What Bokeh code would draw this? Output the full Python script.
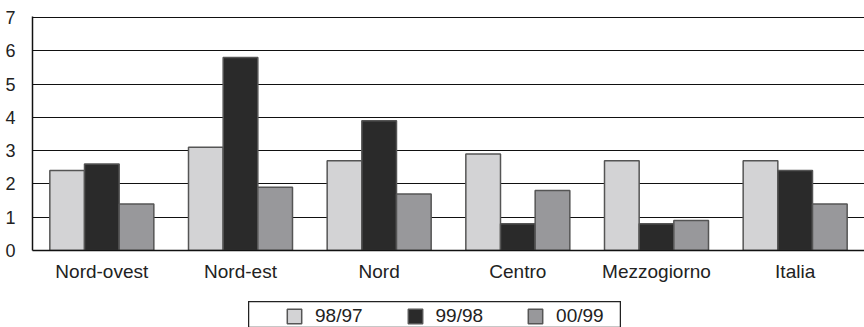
from bokeh.plotting import figure
from bokeh.models import ColumnDataSource, Range1d, FixedTicker, Legend, LegendItem, Spacer
from bokeh.layouts import column, row
from bokeh.transform import dodge
from bokeh.embed import file_html
from bokeh.resources import INLINE

regions = ["Nord-ovest", "Nord-est", "Nord", "Centro", "Mezzogiorno", "Italia"]
series_names = ["98/97", "99/98", "00/99"]
v_98_97 = [2.4, 3.1, 2.7, 2.9, 2.7, 2.7]
v_99_98 = [2.6, 5.8, 3.9, 0.8, 0.8, 2.4]
v_00_99 = [1.4, 1.9, 1.7, 1.8, 0.9, 1.4]
y_ticks = [0, 1, 2, 3, 4, 5, 6, 7]

colors = ["#d3d3d5", "#2a2a2a", "#98989b"]
FONT = "Liberation Sans"
OUTLINE = "#555555"

source = ColumnDataSource(data=dict(region=regions, a=v_98_97, b=v_99_98, c=v_00_99))

p = figure(x_range=regions, y_range=Range1d(0, 7.03), width=864, height=301,
           output_backend="svg", toolbar_location=None,
           min_border_left=32, min_border_right=0, min_border_top=16, min_border_bottom=51)
p.outline_line_color = None

for col, off, color in zip(["a", "b", "c"], [-0.25, 0.0, 0.25], colors):
    p.vbar(x=dodge("region", off, range=p.x_range), top=col, width=0.25, source=source,
           fill_color=color, line_color=OUTLINE, line_width=1.5)

p.xgrid.grid_line_color = None
p.ygrid.grid_line_color = "#111111"
p.ygrid.grid_line_width = 1.2
p.yaxis.ticker = FixedTicker(ticks=y_ticks)

for ax in (p.xaxis[0], p.yaxis[0]):
    ax.major_tick_line_color = None
    ax.minor_tick_line_color = None
    ax.axis_line_color = "#111111"
    ax.axis_line_width = 1.5
    ax.major_label_text_font = FONT
    ax.major_label_text_font_size = "18px"
    ax.major_label_text_color = "#222222"
p.yaxis.major_label_standoff = 11
p.xaxis.major_label_standoff = 4
p.xaxis.major_label_text_font_size = "19px"

# legend panel (its outline draws the legend box, cut by the window bottom)
lg = figure(x_range=regions, y_range=Range1d(0, 7), width=373, height=27,
            output_backend="svg", toolbar_location=None,
            x_axis_type=None, y_axis_type=None, min_border=0)
lg.xgrid.grid_line_color = None
lg.ygrid.grid_line_color = None
lg.outline_line_color = "#222222"
lg.outline_line_width = 1.5
legend_renderers = []
for col, color in zip(["a", "b", "c"], colors):
    r = lg.vbar(x="region", top=col, width=0.25, source=source,
                fill_color=color, line_color=OUTLINE, line_width=1.5)
    r.visible = False
    legend_renderers.append(r)
legend = Legend(items=[LegendItem(label=n, renderers=[r]) for n, r in zip(series_names, legend_renderers)],
                orientation="horizontal", location=(37, 1),
                label_text_font=FONT, label_text_font_size="19px", label_text_color="#222222",
                glyph_width=18, glyph_height=18, label_standoff=12, spacing=43,
                padding=0, margin=0, border_line_color=None, background_fill_alpha=0,
                inactive_fill_alpha=0, label_height=18)
lg.add_layout(legend)

layout = column(p, row(Spacer(width=248, height=27), lg, spacing=0), spacing=0)

open("out.html", "w").write(file_html(layout, INLINE))
